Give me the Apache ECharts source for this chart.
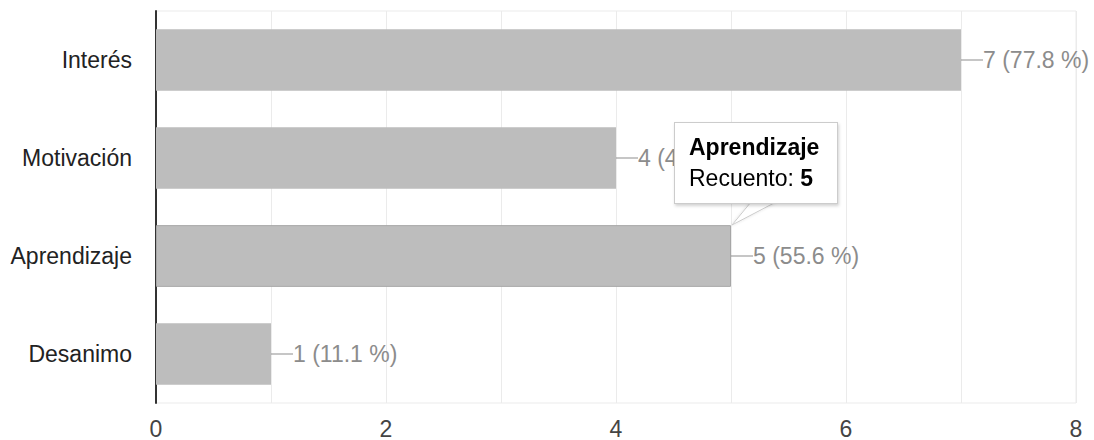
<!DOCTYPE html>
<html>
<head>
<meta charset="utf-8">
<script src="https://cdn.jsdelivr.net/npm/echarts@6/dist/echarts.min.js"></script>
<style>
  html, body { margin: 0; padding: 0; background: #fff; }
  #chart { width: 1094px; height: 440px; }
</style>
</head>
<body>
<div id="chart"></div>
<script>
// datos
const categories = ['Interés', 'Motivación', 'Aprendizaje', 'Desanimo'];
const counts = [7, 4, 5, 1];
const percents = [77.8, 44.4, 55.6, 11.1];
const xTicks = [0, 2, 4, 6, 8];
const hovered = 'Aprendizaje';

const font = '"Liberation Sans", Arial, sans-serif';
const colors = {
  bar: '#bdbdbd',
  barHover: '#a6a6a6',
  grid: '#ebebeb',
  axis: '#333333',
  text: '#222222',
  tickText: '#444444',
  valueText: '#8c8c8c'
};

const chart = echarts.init(document.getElementById('chart'), null, { renderer: 'svg' });

const seriesData = counts.map((v, i) => {
  const item = { value: v };
  if (categories[i] === hovered) {
    item.itemStyle = { borderColor: colors.barHover, borderWidth: 1 };
  }
  return item;
});

const option = {
  animation: false,
  textStyle: { fontFamily: font },
  grid: {
    left: 156, right: 18, top: 11, bottom: 35,
    show: true, borderColor: colors.grid, borderWidth: 1
  },
  tooltip: {
    trigger: 'item',
    triggerOn: 'none',
    alwaysShowContent: true,
    backgroundColor: '#fff',
    borderColor: '#cccccc',
    borderWidth: 1,
    borderRadius: 0,
    padding: [9, 18, 9, 14],
    transitionDuration: 0,
    extraCssText: 'box-shadow: 1px 2px 3px rgba(0,0,0,0.18); line-height: 31px;',
    textStyle: { fontFamily: font, fontSize: 23, color: '#000' },
    formatter: p => '<b>' + p.name + '</b><br/>Recuento: <b>' + p.value + '</b>',
    position: function (point, params) {
      const p = chart.convertToPixel({ seriesIndex: 0 }, [params.value, params.dataIndex]);
      return [p[0] - 57, p[1] - 134];
    }
  },
  xAxis: {
    type: 'value',
    min: 0, max: 8, interval: 1,
    axisLine: { show: false },
    axisTick: { show: false },
    splitLine: { show: true, lineStyle: { color: colors.grid, width: 1 } },
    axisLabel: {
      margin: 14,
      fontSize: 23,
      color: colors.tickText,
      formatter: v => (xTicks.indexOf(v) >= 0 ? String(v) : '')
    }
  },
  yAxis: {
    type: 'category',
    inverse: true,
    data: categories,
    axisLine: { show: true, lineStyle: { color: colors.axis, width: 2 } },
    axisTick: { show: false },
    splitLine: { show: false },
    axisLabel: { margin: 24, fontSize: 23, color: colors.text }
  },
  series: [{
    type: 'bar',
    data: seriesData,
    barWidth: '63%',
    itemStyle: { color: colors.bar },
    label: {
      show: true,
      position: 'right',
      distance: 0,
      formatter: p => '{l|}{t|' + p.value + ' (' + percents[p.dataIndex].toFixed(1) + ' %)}',
      rich: {
        l: { width: 22, height: 1, backgroundColor: colors.valueText, verticalAlign: 'middle' },
        t: { fontSize: 23, color: colors.valueText, fontFamily: font, verticalAlign: 'middle' }
      }
    }
  }]
};

chart.setOption(option);

// cola del globo del tooltip, anclada al extremo de la barra
const hi = categories.indexOf(hovered);
const p = chart.convertToPixel({ seriesIndex: 0 }, [counts[hi], hi]);
chart.setOption({
  graphic: [{
    type: 'polygon',
    z: 100,
    shape: { points: [[p[0] + 20, p[1] - 54], [p[0] + 45, p[1] - 54], [p[0] + 1, p[1] - 31]] },
    style: { fill: '#fff', stroke: '#cccccc', lineWidth: 1, shadowBlur: 3, shadowColor: 'rgba(0,0,0,0.12)' }
  }]
});

chart.dispatchAction({ type: 'showTip', seriesIndex: 0, dataIndex: hi });
</script>
</body>
</html>
